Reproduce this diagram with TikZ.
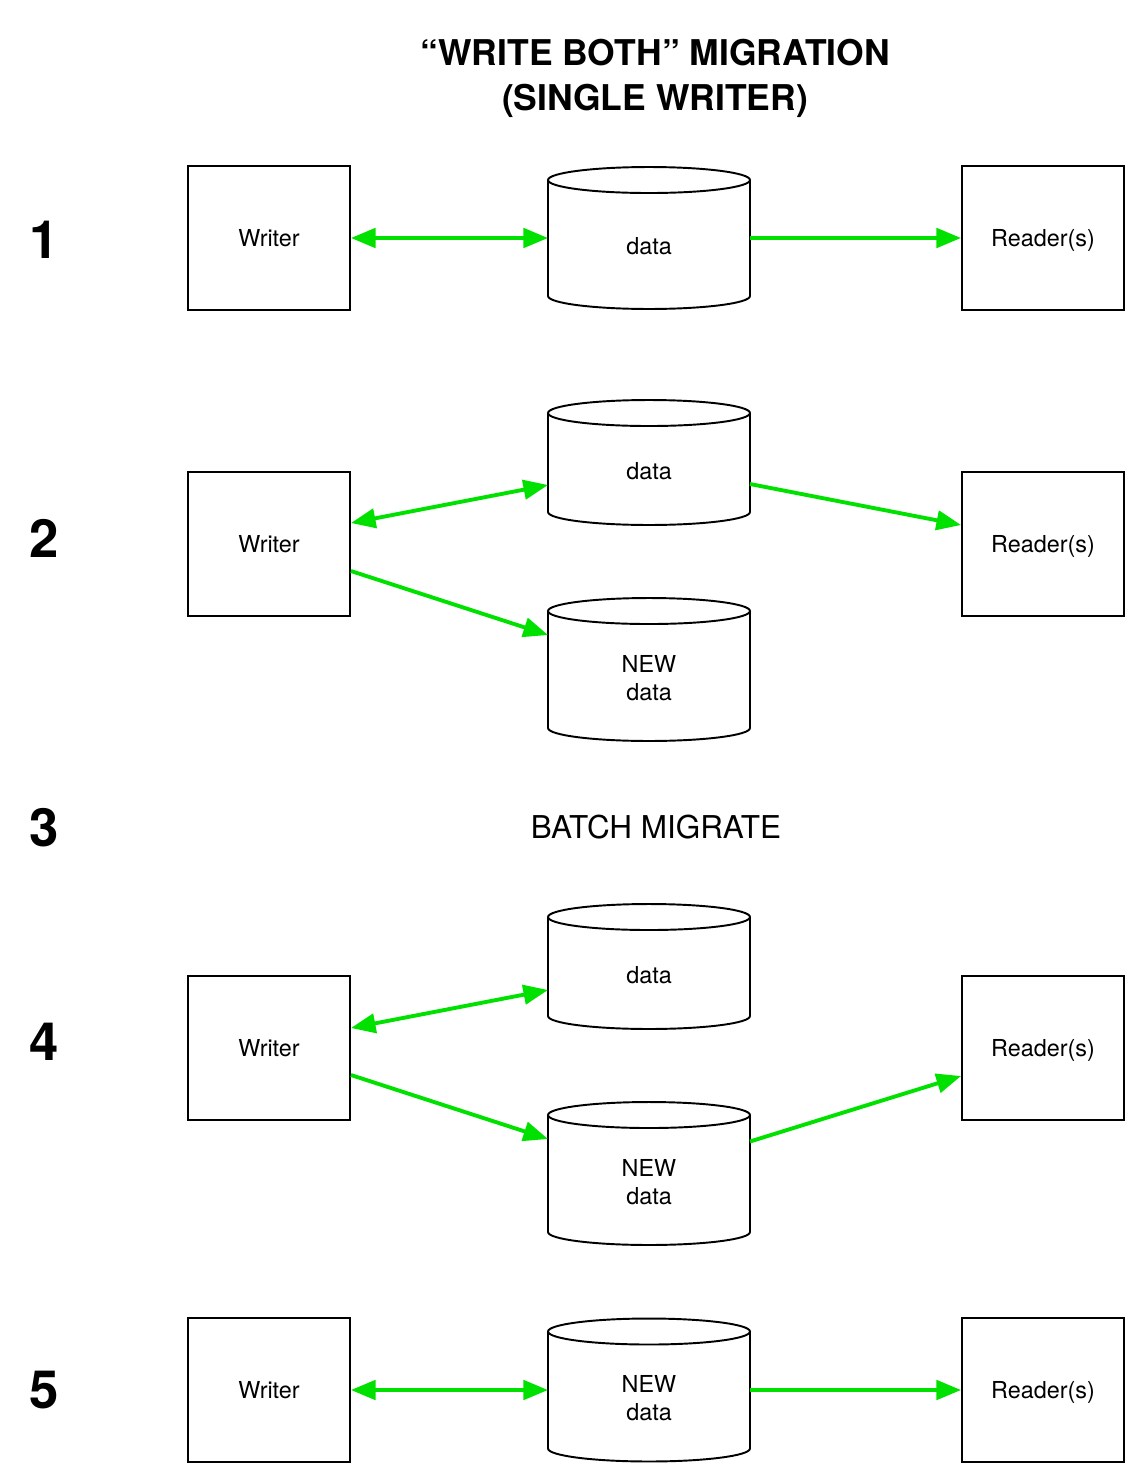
\documentclass[tikz,border=0pt]{standalone}
\usepackage{fontspec}
\setmainfont{TeX Gyre Heros}
\usepackage{tikz}
\usetikzlibrary{calc, arrows.meta}

\definecolor{flowgreen}{RGB}{0,225,0}

% text of a store, set a little lower than the middle (below the lid)
\newcommand{\storetext}[1]{\raisebox{-0.22cm}[\height][\depth]{\begin{tabular}{@{}c@{}}#1\end{tabular}}}

\tikzset{
  box/.style={draw, line width=1.1pt, minimum width=3.24cm, minimum height=2.88cm, inner sep=0pt, font=\fontsize{13.3}{16}\selectfont},
  store/.style={minimum width=4.04cm, minimum height=#1, inner sep=0pt, outer sep=0pt, font=\fontsize{13.3}{16}\selectfont},
  flow/.style={line width=2.2pt, flowgreen, -{Triangle[length=14pt, width=11pt]}},
  twoway/.style={flow, {Triangle[length=14pt, width=11pt]}-{Triangle[length=14pt, width=11pt]}},
  stepnum/.style={font=\fontsize{30}{36}\selectfont\bfseries}
}

\begin{document}
\begin{tikzpicture}[x=0.02cm, y=0.02cm]
    \useasboundingbox (0,0) rectangle (1146,-1484);

    % Title
    \node[align=center, font=\fontsize{20.2}{25.5}\selectfont\bfseries] (title) at (655,-78) {``WRITE BOTH'' MIGRATION\\(SINGLE WRITER)};

    % Step numbers
    \foreach \s/\y in {1/240, 2/538, 3/828, 4/1042, 5/1390} {
      \node[stepnum] (num\s) at (44,-\y) {\s};
    }

    % Writer and reader boxes
    \foreach \r/\y in {1/238, 2/544, 4/1048, 5/1390} {
      \node[box] (w\r) at (269,-\y) {Writer};
      \node[box] (r\r) at (1043,-\y) {\raisebox{-0.04cm}[\height][\depth]{Reader(s)}};
    }

    % Data stores
    \node[store=2.84cm] (d1) at (649,-238) {\storetext{data}};
    \node[store=2.50cm] (d2) at (649,-462.5) {\storetext{data}};
    \node[store=2.86cm] (n2) at (649,-669.5) {\storetext{NEW\\data}};
    \node[store=2.50cm] (d4) at (649,-966.5) {\storetext{data}};
    \node[store=2.86cm] (n4) at (649,-1173.5) {\storetext{NEW\\data}};
    \node[store=2.86cm] (n5) at (649,-1390) {\storetext{NEW\\data}};

    \foreach \n in {d1, d2, n2, d4, n4, n5} {
      \draw[line width=1.1pt] ($(\n.north west)+(0,-13)$) -- ($(\n.south west)+(0,13)$)
        arc[start angle=180, end angle=360, x radius=2.02cm, y radius=0.26cm]
        -- ($(\n.north east)+(0,-13)$);
      \draw[line width=1.1pt] ($(\n.north)+(0,-13)$) ellipse[x radius=2.02cm, y radius=0.26cm];
    }

    % Batch step
    \node[font=\fontsize{17.9}{22}\selectfont] (batch) at (656,-827) {BATCH MIGRATE};

    % Step 1
    \draw[twoway] (w1.east) -- (d1.west);
    \draw[flow] (d1.east) -- (r1.west);

    % Step 2
    \draw[twoway] ($(w2.east)+(0,21)$) -- ($(d2.west)+(0,-22.5)$);
    \draw[flow] ($(d2.east)+(0,-21.5)$) -- ($(r2.west)+(0,19)$);
    \draw[flow] ($(w2.east)+(0,-27)$) -- ($(n2.west)+(0,34.5)$);

    % Step 4
    \draw[twoway] ($(w4.east)+(0,20)$) -- ($(d4.west)+(0,-23.5)$);
    \draw[flow] ($(w4.east)+(0,-27)$) -- ($(n4.west)+(0,34.5)$);
    \draw[flow] ($(n4.east)+(0,32)$) -- ($(r4.west)+(0,-28)$);

    % Step 5
    \draw[twoway] (w5.east) -- (n5.west);
    \draw[flow] (n5.east) -- (r5.west);

  \end{tikzpicture}
\end{document}
